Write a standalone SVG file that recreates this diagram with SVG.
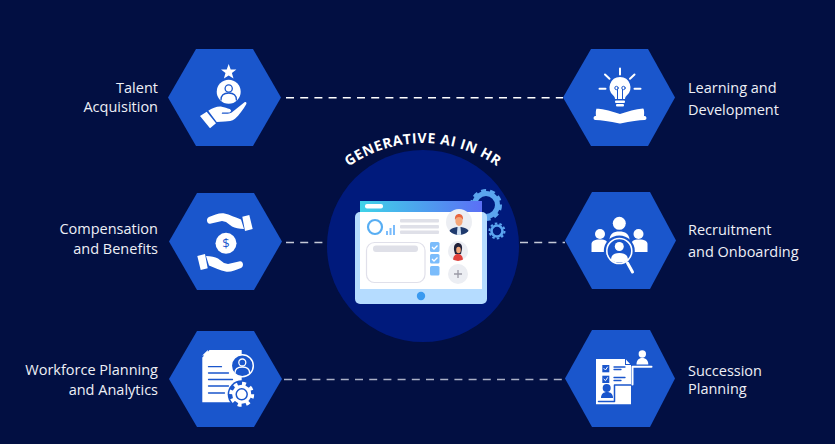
<svg xmlns="http://www.w3.org/2000/svg" width="835" height="444" viewBox="0 0 835 444">
<style>
text{font-family:"Open Sans","Noto Sans","Liberation Sans",sans-serif}
.hex{fill:#1a56cc}
.lab{fill:#eef0f7;font-size:14.5px}
.r{text-anchor:end}
.w{fill:#fff}
.b{fill:#1a56cc}
.ws{fill:none;stroke:#fff;stroke-linecap:round;stroke-linejoin:round}
.bs{fill:none;stroke:#1a56cc;stroke-linecap:round;stroke-linejoin:round}
.dash{fill:none;stroke-width:1.6;stroke-dasharray:8 6.2}
.ln{fill:#dfe0e8}
.cb{fill:#7bbcfb}
.ck{fill:none;stroke:#fff;stroke-width:1.3}
.av{fill:#eceef3}
</style>
<defs>
<linearGradient id="hd" x1="0" x2="1" y1="0" y2="0"><stop offset="0" stop-color="#3fd3e8"/><stop offset="1" stop-color="#5b6ff5"/></linearGradient>
<clipPath id="a1"><circle cx="459" cy="222" r="13"/></clipPath>
<clipPath id="a2"><circle cx="458" cy="251" r="10"/></clipPath>
<path id="arc" d="M338 175A129 129 0 0 1 508 175"/>
</defs>
<rect width="835" height="444" fill="#020f42"/>
<g id="connectors">
<path class="dash" stroke="#fff" d="M286 97.7H563"/>
<path class="dash" stroke="#c5c9d8" d="M286 242.5H327M520 242.5H565"/>
<path class="dash" stroke="#aab0c6" d="M284 379.5H565"/>
</g>
<g id="center">
<circle cx="423" cy="246" r="96" fill="#001a7c"/>
<text font-size="14" font-weight="700" fill="#fff" letter-spacing=".6"><textPath href="#arc" startOffset="50%" text-anchor="middle">GENERATIVE AI IN HR</textPath></text>
<g fill="none" stroke="#5ba5ef">
<circle cx="486" cy="205" r="11.5" stroke-width="5"/>
<circle cx="486" cy="205" r="14.5" stroke-width="3" stroke-dasharray="5 4"/>
<circle cx="497" cy="231" r="5.5" stroke-width="2.6"/>
<circle cx="497" cy="231" r="7.5" stroke-width="2" stroke-dasharray="2.5 2.2"/>
</g>
<rect x="360" y="201" width="122" height="14" fill="url(#hd)"/>
<rect x="365" y="204" width="18" height="4.5" rx="2" fill="#fff"/>
<rect x="355" y="212" width="132" height="92" rx="5" fill="#b5dcff"/>
<rect x="360" y="212" width="122" height="77" fill="#fff"/>
<circle cx="421" cy="296" r="4.2" fill="#3a9af0"/>
<circle cx="375" cy="227" r="7" fill="none" stroke="#58aef3" stroke-width="2.2"/>
<path d="M386 235v-4h2v4zM389.500 235v-7h2v7zM393 235v-10h2v10z" fill="#7bbcfb"/>
<rect class="ln" x="400" y="219" width="39" height="3.400" rx="1"/>
<rect class="ln" x="400" y="225" width="39" height="3.400" rx="1"/>
<rect class="ln" x="400" y="230.500" width="39" height="3.400" rx="1"/>
<rect x="366.500" y="242.500" width="58.500" height="40" rx="8" fill="#fff" stroke="#e0e0ea" stroke-width="1.200"/>
<rect x="373" y="245.500" width="45" height="6.500" rx="3" fill="#dfe0e8"/>
<rect class="cb" x="430" y="242" width="9.500" height="10" rx="1.500"/>
<path class="ck" d="M432 247l2 2 3.500-3.500"/>
<rect class="cb" x="430" y="254" width="9.500" height="9.500" rx="1.500"/>
<path class="ck" d="M432 259l2 2 3.500-3.500"/>
<rect class="cb" x="430" y="266" width="9.500" height="9.500" rx="1.500"/>
<circle class="av" cx="459" cy="222" r="13"/>
<g clip-path="url(#a1)">
<path d="M448 236c0-7 5-9 11-9s11 2 11 9z" fill="#1f3a6e"/>
<path d="M457.500 227h3l.8 9h-4.600z" fill="#cfe0f2"/>
<ellipse cx="459" cy="221" rx="3.600" ry="5" fill="#f4a77a"/>
<path d="M455 220c-.5-4 1.500-6 4-6s4.500 2 4 6c-1-2-2-3-4-3s-3 1-4 3z" fill="#e8643c"/>
</g>
<circle class="av" cx="458" cy="251" r="10"/>
<g clip-path="url(#a2)">
<path d="M454 250c-.5-5 1.500-7 4-7s4.500 2 4 6l-1 5h-6z" fill="#23233a"/>
<path d="M453 261c0-5 2-7 5-7s5 2 5 7z" fill="#e0413c"/>
<ellipse cx="458.500" cy="250" rx="2.300" ry="3.200" fill="#f4a77a"/>
</g>
<circle class="av" cx="458" cy="274" r="10"/>
<path d="M458 270v8M454 274h8" stroke="#9a9aa6" stroke-width="1.300"/>
</g>
<g id="talent-acquisition">
<path class="hex" d="M168 97.500L196 49H253L281 97.500L253 146H196Z"/>
<path class="w" d="M228.700 64l2 5.400 5.700.2-4.500 3.500 1.600 5.500-4.800-3.200-4.800 3.200 1.600-5.500-4.500-3.500 5.700-.2z"/>
<circle class="w" cx="228.700" cy="91.700" r="12"/>
<circle class="bs" cx="228.700" cy="88.500" r="3.600" stroke-width="1.300"/>
<path class="bs" d="M221 100c0-5 3.500-7 7.700-7s7.700 2 7.700 7" stroke-width="1.300"/>
<path class="w" d="M200 116l6.700-4.300 9.300 11.600-6 5zM208.300 110.700c4-2.500 9-4.500 13.400-4 3 .4 5.500 1.500 8 2.400 2 .8 1.800 3.500-1 3.500h-6.500l-.5 1.200c4.500 0 8 0 10-1.300l12.800-10.200c1.500-1 2.500.5 1.700 2-3 5-7 11-11.200 14.500-3 2.300-6.500 2.600-10 2.800l-8.300.5z"/>
</g>
<g id="compensation-benefits">
<path class="hex" d="M169 241.500L197 193H254L282 241.500L254 290H197Z"/>
<circle class="w" cx="226" cy="243.300" r="10.500"/>
<text x="226" y="248" text-anchor="middle" font-size="13" fill="#1a56cc">$</text>
<path id="hand2" class="w" d="M242.300 216.700l7-1.700 3.400 14-7.700 2zM209 217c5-2 11-4.500 15.500-3.500 5 1 11 4 16.500 6l3 9.500c-5 0-9-1-12-2.500l-6-4.500-4-1-12 2.700c-3 .3-4.500-5-1-6.700z"/>
<use href="#hand2" transform="rotate(180 225 242.500)"/>
</g>
<g id="workforce-planning">
<path class="hex" d="M169 379L197 331H254L282 379L254 427H197Z"/>
<path class="w" d="M209.500 350H241.700V402.300H202.300V357.500ZM202.300 355.500l5.500-5.500v5.500z"/>
<path class="bs" stroke-width="1.300" d="M208.500 366.700h5M213.500 366.700h8M208.500 373h20M208.500 379.500h24M208.500 386h20M208.500 393h16"/>
<circle cx="242.300" cy="365.700" r="11" fill="#1a56cc" stroke="#fff" stroke-width="1.500"/>
<circle class="ws" cx="242.300" cy="362.500" r="3.500" stroke-width="1.300"/>
<path class="ws" d="M235 373c0-4 3-6 7.300-6s7.300 2 7.300 6" stroke-width="1.300"/>
<circle class="b" cx="241.700" cy="394.300" r="14"/>
<circle class="w" cx="241.700" cy="394.300" r="9.500"/>
<circle cx="241.700" cy="394.300" r="10.500" fill="none" stroke="#fff" stroke-width="4" stroke-dasharray="3.800 4.450"/>
<circle cx="241.700" cy="394.300" r="5.500" fill="#fff" stroke="#1a56cc" stroke-width="1.500"/>
</g>
<g id="learning-development">
<path class="hex" d="M563 97.500L591 49H648L675 97.500L648 146H591Z"/>
<path class="w" d="M620 77a10.500 10.500 0 0 1 6.500 18.700c-1 1-1.500 2-1.500 3.300h-10c0-1.300-.5-2.300-1.500-3.300A10.500 10.500 0 0 1 620 77z"/>
<rect class="w" x="615" y="100.500" width="10" height="2.500" rx="1"/>
<rect class="w" x="616" y="104" width="8" height="2.500" rx="1"/>
<path class="bs" stroke-width="1" d="M617.500 99v-9.500M622.500 99v-9.500"/>
<circle class="bs" cx="616.500" cy="88" r="1.700" stroke-width="1"/>
<circle class="bs" cx="623.500" cy="88" r="1.700" stroke-width="1"/>
<path class="ws" stroke-width="2" d="M620 68.500v6M605 74.500l4.500 4.300M634.500 74.500l-4.500 4.300M599.500 88.700h6M634.500 88.700h6"/>
<path class="w" d="M596.500 108.500c8 .8 16 3 23.500 5.500 7.500-2.500 15.500-4.700 23-5.500 1.500 0 1.500 8 .5 8.500-8 .5-16 2-23.500 3.500-7.500-1.500-15.500-3-23.500-3.500-1-.5-1-8.500.5-8.500z"/>
<path class="bs" stroke-width=".9" d="M596 117.200c8 .5 16.500 2 24 3.500 7.500-1.500 16-3 24-3.500"/>
<path class="ws" stroke-width="4" d="M595.500 118c8.500 .3 17 2 24.500 3.500 7.500-1.500 16-3.200 24.500-3.500"/>
</g>
<g id="recruitment-onboarding">
<path class="hex" d="M565 240.500L592 192H650L676 240.500L650 289H592Z"/>
<circle class="w" cx="619.300" cy="223.300" r="6.500"/>
<path class="w" d="M609.500 240c0-6 4-8.500 9.800-8.500s10.200 2.500 10.200 8.500z"/>
<circle class="w" cx="600" cy="234" r="5"/>
<path class="w" d="M591.500 252v-8c0-2.500 2.500-4.500 8.500-4.500s7.500 2 7.500 4.500v8z"/>
<circle class="w" cx="638.500" cy="234" r="5"/>
<path class="w" d="M647.500 252v-8c0-2.500-2.500-4.500-8.500-4.500s-7.500 2-7.500 4.500v8z"/>
<circle class="b" cx="619.300" cy="251" r="15.500"/>
<circle cx="619.300" cy="251" r="12.500" fill="#1a56cc" stroke="#fff" stroke-width="1.600"/>
<circle class="w" cx="619.300" cy="246.500" r="4.500"/>
<path class="w" d="M611 260c0-5 3-7 8.300-7s8.700 2 8.700 7c-2.500 1.800-5.500 2.500-8.500 2.500s-6-.7-8.500-2.500z"/>
<path class="ws" stroke-width="3" d="M627.500 263l5 9"/>
</g>
<g id="succession-planning">
<path class="hex" d="M565 378.500L592 330H650L675 378.500L650 427H592Z"/>
<path class="w" d="M596 359H625.500L631 365V404.300H596Z"/>
<path class="b" d="M625 359v6h6l1 -1h-6v-6z"/>
<rect x="602.300" y="365" width="7" height="7.300" fill="#1a56cc"/>
<rect x="602.300" y="375.700" width="7" height="7.300" fill="#1a56cc"/>
<path class="ws" stroke-width="1" d="M604 368.500l1.500 1.500 2-3M604 379.200l1.500 1.500 2-3"/>
<path class="bs" stroke-width="1.300" d="M614 367h11M614 369.500h7M614 377.500h11M614 380.500h7"/>
<circle class="b" cx="606.700" cy="388" r="4"/>
<path class="b" d="M601 398c0-4 2.500-6 6-6s6 2 6 6z"/>
<path class="bs" stroke-width="1.500" d="M598.500 401.500H614.500V385H632"/>
<path class="ws" stroke-width="2" d="M632.500 384.500V366.700H651.500"/>
<circle class="w" cx="642.300" cy="354" r="3.700"/>
<path class="w" d="M636.500 364.500c0-4 2-6.500 5.800-6.500s6 2.500 6 6.500z"/>
</g>
<g id="labels">
<text class="lab r" x="158" y="93">Talent</text>
<text class="lab r" x="158" y="112">Acquisition</text>
<text class="lab r" x="158" y="234">Compensation</text>
<text class="lab r" x="158" y="254">and Benefits</text>
<text class="lab r" x="158" y="375">Workforce Planning</text>
<text class="lab r" x="158" y="395">and Analytics</text>
<text class="lab" x="688" y="93">Learning and</text>
<text class="lab" x="688" y="115">Development</text>
<text class="lab" x="688" y="235">Recruitment</text>
<text class="lab" x="688" y="257">and Onboarding</text>
<text class="lab" x="688" y="376">Succession</text>
<text class="lab" x="688" y="394">Planning</text>
</g>
</svg>
